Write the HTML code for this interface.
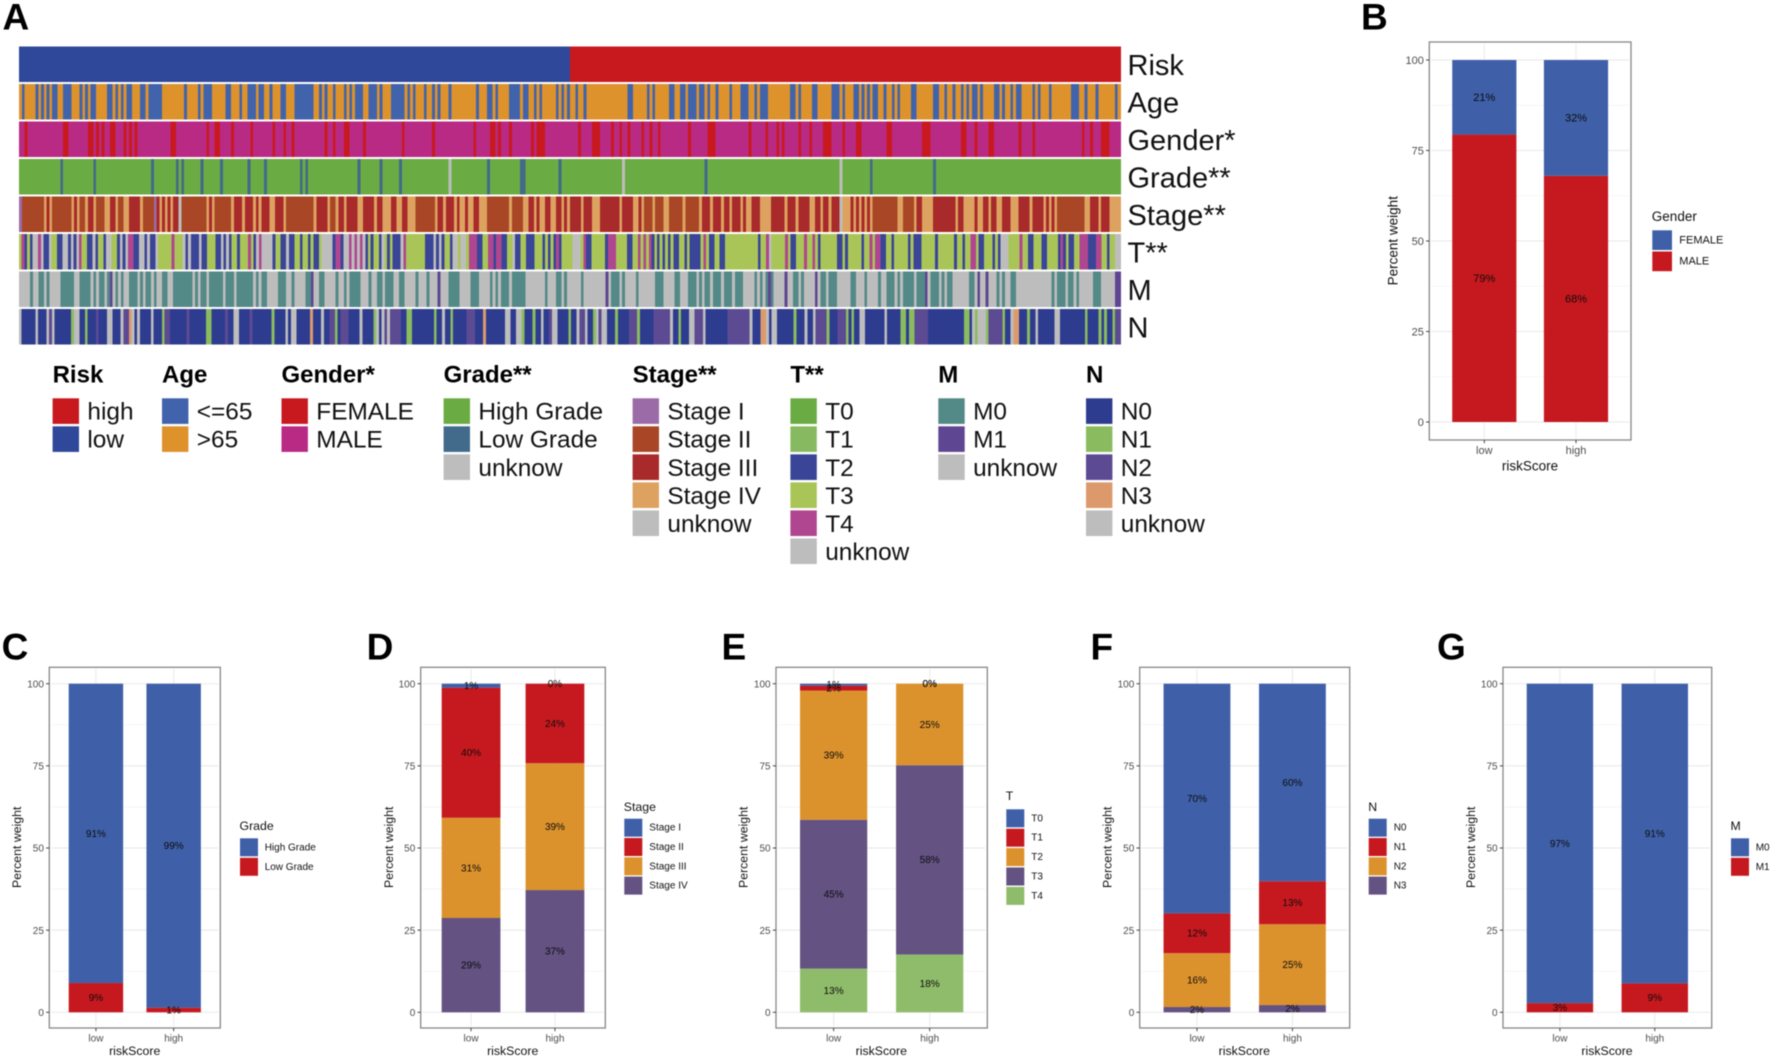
<!DOCTYPE html>
<html lang="en">
<head>
<meta charset="utf-8">
<title>Risk score clinical correlation heatmap and stacked bars</title>
<style>
html,body{margin:0;padding:0;background:#fff;width:1772px;height:1058px;overflow:hidden}
svg{display:block;font-family:"Liberation Sans",Arial,sans-serif;filter:blur(.45px)}
</style>
</head>
<body>
<svg id="figure" xmlns="http://www.w3.org/2000/svg" width="1772" height="1058" viewBox="0 0 1772 1058">
<rect width="1772" height="1058" fill="#fff"/>
<g font-weight="bold" font-size="37" fill="#000">
<text x="2.5" y="29.5">A</text>
<text x="1361" y="29.5">B</text>
<text x="1.6" y="659.5">C</text>
<text x="366.6" y="659.5">D</text>
<text x="721.5" y="659.5">E</text>
<text x="1090.5" y="659.5">F</text>
<text x="1437" y="659.5">G</text>
</g>
</svg>
<script>
// ---------- Heatmap data: one run-length list per clinical row (category code + sample count) ----------
const riskRuns = "L200 H200".split(" ");
const ageRuns = "O1 B1 O4 B1 O1 B1 O1 B1 O1 B2 O2 B3 O3 B1 O1 B1 O1 B2 O4 B2 O1 B1 O1 B1 O1 B2 O3 B2 O1 B5 O8 B1 O4 B1 O1 B3 O5 B2 O3 B1 O2 B3 O1 B2 O2 B1 O3 B2 O3 B7 O2 B1 O1 B1 O2 B1 O3 B1 O1 B1 O1 B3 O2 B3 O1 B1 O3 B5 O1 B1 O1 B1 O3 B1 O2 B1 O1 B1 O3 B1 O9 B1 O3 B2 O1 B1 O4 B4 O1 B2 O2 B1 O1 B1 O5 B1 O1 B1 O1 B1 O2 B1 O2 B1 O15 B2 O5 B1 O1 B1 O5 B2 O2 B2 O1 B3 O1 B2 O1 B1 O2 B1 O4 B1 O3 B3 O2 B1 O1 B3 O8 B2 O1 B1 O4 B2 O5 B3 O1 B1 O3 B2 O1 B1 O1 B1 O1 B2 O2 B1 O2 B1 O1 B1 O4 B2 O6 B2 O2 B1 O2 B1 O2 B1 O1 B1 O1 B2 O1 B1 O4 B2 O1 B1 O2 B1 O1 B2 O4 B1 O1 B1 O3 B1 O7 B3 O2 B1 O3 B1 O6 B1 O1".split(" ");
const genderRuns = "M2 F1 M13 F2 M7 F2 M1 F1 M1 F1 M2 F2 M3 F1 M1 F1 M1 F1 M12 F2 M11 F1 M2 F2 M4 F1 M6 F1 M7 F1 M3 F1 M2 F1 M11 F1 M2 F1 M3 F2 M5 F1 M13 F1 M10 F1 M14 F1 M5 F2 M1 F1 M3 F1 M7 F1 M1 F3 M12 F1 M4 F3 M4 F1 M2 F1 M2 F1 M4 F1 M2 F1 M2 F1 M10 F1 M6 F3 M12 F1 M5 F1 M3 F1 M1 F1 M5 F1 M3 F1 M4 F3 M4 F1 M4 F2 M9 F2 M11 F3 M11 F2 M3 F1 M4 F2 M9 F1 M4 F1 M17 F1 M2 F1 M3 F3 M4".split(" ");
const gradeRuns = "G15 L1 G11 L1 G20 L1 G8 L1 G1 L1 G6 L1 G6 L1 G9 L1 G5 L1 G12 L1 G1 L1 G18 L1 G7 L1 G6 L1 G17 U1 G13 L1 G11 L2 G12 L1 G22 U1 G29 L1 G48 U1 G10 L1 G22 L1 G67".split(" ");
const stageRuns = "P1 A8 T1 R1 T1 A7 T1 R1 T1 A2 T1 R2 T1 A3 T2 R2 T1 A2 T2 R4 T1 A4 P1 R1 T1 R1 T1 R1 T1 R2 U1 A9 T1 R1 T1 A6 T1 R3 T1 R3 T1 R1 T1 R3 T2 R3 T1 A10 T1 R4 T1 A2 T1 R2 T1 R4 T2 R4 T1 R2 T3 R2 T2 R2 T3 A7 T1 R2 T1 R3 T1 R1 T2 R1 T2 R2 T3 A8 T1 A4 T2 R2 T1 R1 T2 R2 T2 R2 T1 R1 T1 R4 T1 R3 T3 R7 T1 R4 T2 R1 T1 A3 T1 A3 T2 A5 T1 A5 T1 R3 T1 R3 T1 R2 T1 R3 T1 R1 T2 R3 T4 R5 T1 R3 T1 R4 T2 R2 T1 R2 T1 R3 U1 T3 R1 T1 R1 T1 R1 T1 R1 T1 A9 T2 A4 T1 R2 T4 R8 T1 R2 T4 R1 T2 R2 T1 R2 T2 R3 T3 R4 T1 R4 T1 R1 T1 R1 T1 A10 T2 R3 T1 R3 T4".split(" ");
const tumorRuns = "Y1 Z1 D1 Y1 D1 U2 Z1 U1 D2 U1 Y2 D2 U2 D1 U1 D1 U1 Z1 Y2 D2 U1 D1 Y2 D1 U2 Y2 D1 U1 D1 U1 Z2 D2 U2 D1 U1 D2 U1 Y5 Z1 Y3 U1 D1 U1 D3 U1 D2 Y3 D2 U1 D1 U1 D1 Y2 D1 Y3 Z1 Y1 D1 U1 Z1 U4 D1 Y2 D2 U1 D2 Y2 D1 Y2 D1 Y1 D2 Y1 U4 D1 Z2 D1 U2 Z1 U1 Z1 U1 Z1 U1 D1 Y1 D1 Y2 D1 U1 Y1 D1 Y1 D3 U1 Z1 Y7 D3 U1 D1 U1 D1 Y2 D1 U2 Y1 U2 Y1 Z3 D2 Y2 Z2 D1 Z2 D2 Y2 U1 D2 Y2 D3 Y3 D1 Y1 D1 Y1 D1 Z1 D1 Y4 U3 Y1 Z1 D2 Y5 D1 Z3 Y4 D2 Y2 Z1 Y1 Z1 Y1 Z1 D1 Y1 D1 Y1 D1 Y1 D1 Y1 D2 Y2 D1 Y1 D4 Y1 Z1 Y1 D2 Y2 D2 Y12 D1 Y2 Z1 U1 Y5 Z1 Y1 D2 Y3 Z1 Y2 Z1 Y1 D1 Y6 D2 Y1 D1 Y5 D1 Y2 Z1 Y1 Z2 D2 Y2 D1 Y5 D1 Y1 D3 Y5 D1 Y6 D1 Y2 D1 Y2 Z2 Y1 D2 Y3 D1 Y1 D1 U3 Y4 Z1 Y2 D2 Y3 D2 Y4 D1 Z1 D1 Y1 D2 Y2 Z3 D3 Z2 Y2 D1 Y2 U2".split(" ");
const metastasisRuns = "U4 K1 U2 K2 U1 K1 U4 K5 U2 K4 U1 K1 U1 K2 U1 K1 V1 U1 K1 U1 K1 U2 K3 U1 K1 U1 K2 U1 K1 U2 K2 U2 K7 U1 K1 U1 K2 U1 K5 U1 K3 U1 K6 U1 K1 U1 K2 U4 K3 U2 K1 U4 K2 V1 U2 K2 U4 K1 U2 K1 U1 K4 U3 K1 U2 K2 U1 K3 U2 K2 U4 K1 U3 K1 U3 V1 U3 K4 U4 K3 U4 K1 U1 K1 U1 K3 U1 K5 U7 K1 U3 K2 U1 K1 U5 K1 U6 U2 V1 U1 K3 U1 K1 U4 K1 U6 K3 U4 K2 U3 K3 U1 K1 U1 K2 U1 K3 U1 K3 U1 K3 U4 K1 U1 K1 U1 K1 V1 K1 U4 V1 U2 K2 U1 K1 U4 V1 U1 K2 U1 K3 U5 K2 U3 K1 U4 K1 U2 K3 U1 K1 U1 K4 U1 K3 V1 U1 K3 U1 K1 U1 K2 U6 K2 U1 V1 U2 V1 U3 K1 U1 K1 U2 K2 U13 K1 U1 K3 U1 K2 U1 K1 U5 K3 U5 V2".split(" ");
const nodeRuns = "U1 a5 U1 a3 U1 p1 U1 a6 g1 U2 a2 g1 a3 p1 a3 U2 a3 U1 p2 h1 U1 a1 U1 a4 U1 a3 g1 p2 a6 p1 a6 g2 a5 p1 a2 U2 a4 p1 a7 g1 a4 U1 a1 U2 a5 h1 a3 U1 a2 p2 g1 a1 p3 a4 U1 a4 g1 U1 a1 U1 p1 U1 p4 a2 g2 a8 g1 a2 U1 a2 g1 a5 p3 a3 h1 a7 U2 a2 U2 g1 a3 g1 a2 U1 a2 p1 U2 a4 g1 a2 U1 p2 U1 a2 g1 U1 p1 U2 a3 g1 a4 p3 g1 a5 p6 U1 a2 g1 a3 U2 p3 U1 a8 p8 U1 a3 h2 U1 a1 U2 a6 g1 a3 U1 a2 U1 p4 g1 a3 p3 g1 a1 g1 a2 U2 a7 U1 a5 g2 a1 g2 p5 a13 g2 a1 U1 g1 U3 g1 p5 g1 a2 U1 h2 a3 g1 a2 U1 a6 U2 a9 g1 a4 g1 a1 g1 a2 g1 p2".split(" ");

const riskLevels = ["high","low"];
const ageLevels = ["<=65",">65"];
const genderLevels = ["FEMALE","MALE"];
const gradeLevels = ["High Grade","Low Grade","unknow"];
const stageLevels = ["Stage I","Stage II","Stage III","Stage IV","unknow"];
const tumorLevels = ["T0","T1","T2","T3","T4","unknow"];
const metastasisLevels = ["M0","M1","unknow"];
const nodeLevels = ["N0","N1","N2","N3","unknow"];

const riskSwatches = ["#C8191F","#2F4899"];
const ageSwatches = ["#4163AB","#DD922C"];
const genderSwatches = ["#C8191F","#B82A84"];
const gradeSwatches = ["#6BAB43","#426A8A","#BDBDBD"];
const stageSwatches = ["#9B6BA8","#A84625","#A82A2A","#DDA25F","#BDBDBD"];
const tumorSwatches = ["#6BAB43","#87BA60","#3A4597","#A9C557","#B0468F","#BDBDBD"];
const metastasisSwatches = ["#538987","#5F4693","#BDBDBD"];
const nodeSwatches = ["#2E3C8F","#8ABB5F","#5C4A93","#DC9A6C","#BDBDBD"];

// ---------- Stacked bar data: percent per level, first level is stacked on top ----------
const barCategories = ["low","high"];
const percentTicks = [0,25,50,75,100];
const percentMinorTicks = [12.5,37.5,62.5,87.5];

const genderBarLevels = ["FEMALE","MALE"];
const genderBarLow = [20.6,79.4];
const genderBarHigh = [32,68];

const gradeBarLevels = ["High Grade","Low Grade"];
const gradeBarLow = [91.1,8.9];
const gradeBarHigh = [98.6,1.4];

const stageBarLevels = ["Stage I","Stage II","Stage III","Stage IV"];
const stageBarLow = [1.2,39.6,30.5,28.7];
const stageBarHigh = [0,24.2,38.6,37.2];

const tumorBarLevels = ["T0","T1","T2","T3","T4"];
const tumorBarLow = [0.6,1.5,39.3,45.3,13.3];
const tumorBarHigh = [0,0,24.8,57.6,17.6];

const nodeBarLevels = ["N0","N1","N2","N3"];
const nodeBarLow = [69.9,12.1,16.4,1.6];
const nodeBarHigh = [60.1,13.1,24.6,2.2];

const metastasisBarLevels = ["M0","M1"];
const metastasisBarLow = [97.2,2.8];
const metastasisBarHigh = [91.2,8.8];

const barColors = ["#3F60A8","#C6191F","#DC922C","#635282","#8FBC6A"];

const NS = "http://www.w3.org/2000/svg";
const svg = document.getElementById("figure");

function mk(tag, attrs, parent, txt) {
  const el = document.createElementNS(NS, tag);
  for (const k in attrs) el.setAttribute(k, attrs[k]);
  if (txt !== undefined) el.textContent = txt;
  (parent || svg).appendChild(el);
  return el;
}

// ---------- Heatmap ----------
function expandRuns(runs) {
  const cells = [];
  runs.forEach(function (tok) {
    const code = tok[0];
    const count = parseInt(tok.slice(1), 10);
    for (let i = 0; i < count; i++) cells.push(code);
  });
  return cells;
}

const heatLeft = 19, heatRight = 1120.5, heatTop = 46.7, heatPitch = 37.48, heatHeight = 35.4;

function heatColumnX(i, total) { return heatLeft + i * (heatRight - heatLeft) / total; }
function heatRowY(r) { return heatTop + r * heatPitch; }

const heatRows = [
  {id:"risk",  label:"Risk",    runs:riskRuns,       colors:{L:riskSwatches[1],H:riskSwatches[0]}},
  {id:"age",   label:"Age",     runs:ageRuns,        colors:{B:ageSwatches[0],O:ageSwatches[1]}},
  {id:"gender",label:"Gender*", runs:genderRuns,     colors:{F:genderSwatches[0],M:genderSwatches[1]}},
  {id:"grade", label:"Grade**", runs:gradeRuns,      colors:{G:gradeSwatches[0],L:gradeSwatches[1],U:gradeSwatches[2]}},
  {id:"stage", label:"Stage**", runs:stageRuns,      colors:{P:stageSwatches[0],A:stageSwatches[1],R:stageSwatches[2],T:stageSwatches[3],U:stageSwatches[4]}},
  {id:"t",     label:"T**",     runs:tumorRuns,      colors:{D:tumorSwatches[2],Y:tumorSwatches[3],Z:tumorSwatches[4],U:tumorSwatches[5]}},
  {id:"m",     label:"M",       runs:metastasisRuns, colors:{K:metastasisSwatches[0],V:metastasisSwatches[1],U:metastasisSwatches[2]}},
  {id:"n",     label:"N",       runs:nodeRuns,       colors:{a:nodeSwatches[0],g:nodeSwatches[1],p:nodeSwatches[2],h:nodeSwatches[3],U:nodeSwatches[4]}}
];

heatRows.forEach(function (row, r) {
  const g = mk("g", {"shape-rendering":"crispEdges"});
  
  
  const cells = expandRuns(row.runs);
  cells.forEach(function (code, i) {
    const x0 = heatColumnX(i, cells.length);
    const x1 = heatColumnX(i + 1, cells.length);
    const cell = mk("rect", {x:x0, y:heatRowY(r), width:x1 - x0 + 0.4, height:heatHeight, fill:row.colors[code]}, g);
    
    
  });
  const label = mk("text", {x:1127.5, y:heatRowY(r) + 28.5, "font-size":29, fill:"#111"}, svg, row.label);
  
  
});

// ---------- Heatmap legend ----------
const heatLegends = [
  {id:"risk",  title:"Risk",    swatchX:52.6,  levels:riskLevels,       colors:riskSwatches},
  {id:"age",   title:"Age",     swatchX:162,   levels:ageLevels,        colors:ageSwatches},
  {id:"gender",title:"Gender*", swatchX:281.5, levels:genderLevels,     colors:genderSwatches},
  {id:"grade", title:"Grade**", swatchX:443.6, levels:gradeLevels,      colors:gradeSwatches},
  {id:"stage", title:"Stage**", swatchX:632.6, levels:stageLevels,      colors:stageSwatches},
  {id:"t",     title:"T**",     swatchX:790.4, levels:tumorLevels,      colors:tumorSwatches},
  {id:"m",     title:"M",       swatchX:938.3, levels:metastasisLevels, colors:metastasisSwatches},
  {id:"n",     title:"N",       swatchX:1086,  levels:nodeLevels,       colors:nodeSwatches}
];

heatLegends.forEach(function (lg) {
  const title = mk("text", {x:lg.swatchX, y:382.3, "font-size":24, "font-weight":"bold", fill:"#000"}, svg, lg.title);
  
  
  lg.levels.forEach(function (name, i) {
    const sw = mk("rect", {x:lg.swatchX, y:398.3 + i * 28.03, width:26.4, height:25.6, fill:lg.colors[i]});
    
    
    const tx = mk("text", {x:lg.swatchX + 34.8, y:419.7 + i * 28.03, "font-size":24.4, fill:"#111"}, svg, name);
    
    
  });
});

// ---------- Stacked bar panels ----------
const barPanels = [
  {id:"b", title:"Gender", levels:genderBarLevels, low:genderBarLow, high:genderBarHigh,
   box:[1429.3,1631,42,440], y0:422, y100:60, yTitleX:1393, yTitleY:240.7, xLabelY:450, xTitleY:465.7, xTitleX:1530,
   tickFs:11, titleFs:13.5, legX:1652.3, legTitleY:216, legY:230.3, legStep:21.2, legSize:19.7, legTextX:1679.3},
  {id:"c", title:"Grade", levels:gradeBarLevels, low:gradeBarLow, high:gradeBarHigh,
   box:[49.3,220.3,667.3,1028], y0:1012.3, y100:683.7, yTitleX:16.7, yTitleY:847.3, xLabelY:1038, xTitleY:1051, xTitleX:134.7,
   tickFs:10, titleFs:12.3, legX:240, legTitleY:825.7, legY:838.3, legStep:19.5, legSize:18, legTextX:264.7},
  {id:"d", title:"Stage", levels:stageBarLevels, low:stageBarLow, high:stageBarHigh,
   box:[420.7,605.3,667.3,1028], y0:1012.3, y100:683.7, yTitleX:389, yTitleY:847.3, xLabelY:1038, xTitleY:1051, xTitleX:512.7,
   tickFs:10, titleFs:12.3, legX:624.3, legTitleY:806.7, legY:818.7, legStep:19.3, legSize:18, legTextX:649.3},
  {id:"e", title:"T", levels:tumorBarLevels, low:tumorBarLow, high:tumorBarHigh,
   box:[776,987.3,667.3,1028], y0:1012.3, y100:683.7, yTitleX:743.3, yTitleY:847.3, xLabelY:1038, xTitleY:1051, xTitleX:881.3,
   tickFs:10, titleFs:12.3, legX:1006.3, legTitleY:795.7, legY:809.3, legStep:19.4, legSize:18, legTextX:1031.3},
  {id:"f", title:"N", levels:nodeBarLevels, low:nodeBarLow, high:nodeBarHigh,
   box:[1139.7,1349.7,667.3,1028], y0:1012.3, y100:683.7, yTitleX:1107.3, yTitleY:847.3, xLabelY:1038, xTitleY:1051, xTitleX:1244.3,
   tickFs:10, titleFs:12.3, legX:1368.7, legTitleY:806.7, legY:818.7, legStep:19.3, legSize:18, legTextX:1393.7},
  {id:"g", title:"M", levels:metastasisBarLevels, low:metastasisBarLow, high:metastasisBarHigh,
   box:[1503,1711.7,667.3,1028], y0:1012.3, y100:683.7, yTitleX:1470.7, yTitleY:847.3, xLabelY:1038, xTitleY:1051, xTitleX:1607,
   tickFs:10, titleFs:12.3, legX:1731, legTitleY:825.7, legY:838.3, legStep:19.5, legSize:18, legTextX:1755.7}
];

function drawPanel(p) {
  const L = p.box[0], R = p.box[1], T = p.box[2], B = p.box[3];
  const W = R - L;
  const unit = W / 2.2;
  function xCenter(i) { return L + (0.6 + i) * unit; }
  const barW = 0.7 * unit;
  function yScale(v) { return p.y0 - v * (p.y0 - p.y100) / 100; }

  const root = mk("g", {});
  
  

  percentMinorTicks.forEach(function (v) {
    const ln = mk("line", {x1:L + 2, x2:R - 2, y1:yScale(v), y2:yScale(v), stroke:"#F3F3F3", "stroke-width":0.8}, root);
    
    
  });
  percentTicks.forEach(function (v) {
    const ln = mk("line", {x1:L + 2, x2:R - 2, y1:yScale(v), y2:yScale(v), stroke:"#ECECEC", "stroke-width":1.2}, root);
    
    
  });
  barCategories.forEach(function (c, i) {
    const ln = mk("line", {x1:xCenter(i), x2:xCenter(i), y1:T + 2, y2:B - 2, stroke:"#ECECEC", "stroke-width":1.2}, root);
    
    
  });

  const series = [p.low, p.high];
  series.forEach(function (vals, i) {
    let base = 0;
    for (let s = vals.length - 1; s >= 0; s--) {
      const top = base + vals[s];
      const rect = mk("rect", {x:xCenter(i) - barW / 2, y:yScale(top), width:barW, height:yScale(base) - yScale(top), fill:barColors[s]}, root);
      
      
      base = top;
    }
  });
  series.forEach(function (vals, i) {
    let base = 0;
    for (let s = vals.length - 1; s >= 0; s--) {
      const mid = base + vals[s] / 2;
      const tx = mk("text", {x:xCenter(i), y:yScale(mid) + p.tickFs * 0.34, "font-size":p.tickFs, "text-anchor":"middle", fill:"#0c0c0c"}, root, Math.round(vals[s]) + "%");
      
      
      base += vals[s];
    }
  });

  const frame = mk("rect", {x:L, y:T, width:W, height:B - T, fill:"none", stroke:"#8A8682", "stroke-width":1.3}, root);
  
  

  percentTicks.forEach(function (v) {
    const tk = mk("line", {x1:L - 3.2, x2:L, y1:yScale(v), y2:yScale(v), stroke:"#444", "stroke-width":1}, root);
    
    
    const lb = mk("text", {x:L - 5.4, y:yScale(v) + p.tickFs * 0.36, "font-size":p.tickFs, "text-anchor":"end", fill:"#4D4D4D"}, root, String(v));
    
    
  });
  barCategories.forEach(function (c, i) {
    const tk = mk("line", {x1:xCenter(i), x2:xCenter(i), y1:B, y2:B + 3.2, stroke:"#444", "stroke-width":1}, root);
    
    
    const lb = mk("text", {x:xCenter(i), y:p.xLabelY + p.tickFs * 0.36, "font-size":p.tickFs, "text-anchor":"middle", fill:"#4D4D4D"}, root, c);
    
    
  });

  const xt = mk("text", {x:p.xTitleX, y:p.xTitleY + p.titleFs * 0.34, "font-size":p.titleFs, "text-anchor":"middle", fill:"#111"}, root, "riskScore");
  
  
  const yt = mk("text", {x:0, y:p.titleFs * 0.34, "font-size":p.titleFs, "text-anchor":"middle", fill:"#111", transform:"translate(" + p.yTitleX + " " + p.yTitleY + ") rotate(-90)"}, root, "Percent weight");
  
  

  const lt = mk("text", {x:p.legX - 0.5, y:p.legTitleY + p.titleFs * 0.36, "font-size":p.titleFs, fill:"#111"}, root, p.title);
  
  
  p.levels.forEach(function (name, i) {
    const sw = mk("rect", {x:p.legX, y:p.legY + i * p.legStep, width:p.legSize, height:p.legSize, fill:barColors[i]}, root);
    
    
    const tx = mk("text", {x:p.legTextX, y:p.legY + i * p.legStep + p.legSize / 2 + p.tickFs * 0.3, "font-size":p.tickFs, fill:"#111"}, root, name);
    
    
  });
}

barPanels.forEach(drawPanel);
</script>
</body>
</html>
